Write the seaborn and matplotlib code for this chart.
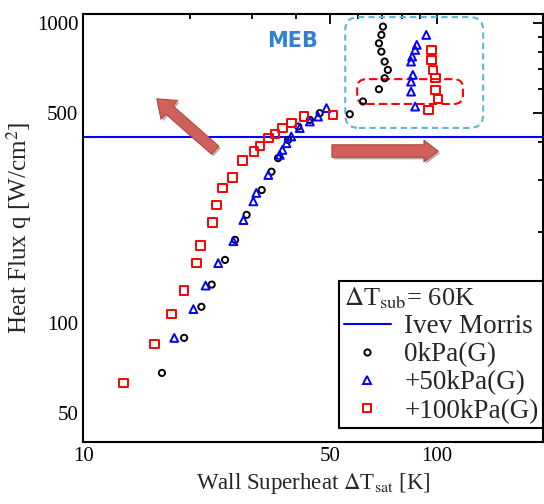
import matplotlib.pyplot as plt
import matplotlib.patheffects as pe
from matplotlib.patches import FancyBboxPatch
from matplotlib.lines import Line2D
import pandas as pd
import seaborn as sns

sns.set_theme(style="white")
plt.rcParams["font.family"] = ["Liberation Serif", "DejaVu Serif"]
plt.rcParams["mathtext.fontset"] = "stix"

# wall superheat [K] / heat flux [W/cm2]
dt_0k = [16.7, 19.3, 21.6, 23.1, 25.2, 26.9, 29.0, 32.0, 34.1, 35.6, 38.0, 40.6,
         43.8, 46.7, 56.8, 61.9, 68.7, 71.3, 72.8, 71.3, 69.8, 68.7, 69.8, 70.5]
q_0k = [68, 89, 113, 134, 162, 189, 229, 277, 319, 354, 407, 451,
        475, 500, 496, 547, 601, 654, 697, 743, 802, 855, 912, 972]

dt_50k = [18.1, 20.5, 22.2, 24.1, 26.6, 28.4, 30.3, 30.9, 33.4, 36.0, 36.6, 37.6,
          38.8, 41.0, 43.8, 46.2, 48.8, 87.0, 84.7, 84.7, 85.7, 84.7, 85.3, 87.0,
          87.9, 93.5]
q_50k = [89, 111, 133, 158, 187, 220, 254, 271, 311, 363, 377, 397,
         418, 446, 469, 487, 520, 526, 590, 637, 671, 743, 772, 813,
         845, 912]

dt_100k = [13.0, 15.9, 17.8, 19.3, 20.9, 21.5, 23.2, 23.8, 24.8, 26.5, 28.2, 30.4,
           31.6, 33.4, 34.9, 36.6, 38.8, 42.1, 50.9, 95.0, 101.0, 99.4, 99.4, 97.7,
           96.6, 96.6]
q_100k = [63, 85, 107, 128, 158, 181, 216, 247, 281, 305, 348, 372,
          389, 413, 426, 446, 463, 487, 493, 513, 557, 598, 654, 697,
          753, 813]

ivey_morris_q = 415
series = ["0kPa(G)", "+50kPa(G)", "+100kPa(G)"]
colors = ["black", "blue", "red"]
markers = ["o", "^", "s"]
sizes = [20, 32, 38]

df = pd.concat([
    pd.DataFrame({"dT": dt_0k, "q": q_0k, "case": series[0]}),
    pd.DataFrame({"dT": dt_50k, "q": q_50k, "case": series[1]}),
    pd.DataFrame({"dT": dt_100k, "q": q_100k, "case": series[2]}),
])

fig = plt.figure(figsize=(5.44, 5.04), dpi=100)
ax = fig.add_axes([0.153, 0.123, 0.845, 0.849])

ax.axhline(ivey_morris_q, color="blue", lw=1.5, zorder=1)
for name, c, m, s in zip(series, colors, markers, sizes):
    sub = df[df["case"] == name]
    sns.scatterplot(data=sub, x="dT", y="q", ax=ax, marker=m, s=s,
                    facecolor="none", edgecolor=c, linewidth=1.4, zorder=3)

ax.set_xscale("log")
ax.set_yscale("log")
ax.set_xlim(10, 200)
ax.set_ylim(40, 1070)
ax.set_xticks([10, 50, 100])
ax.set_xticklabels(["10", "50", "100"])
ax.set_xticks([20, 30, 40, 60, 70, 80, 90], minor=True)
ax.set_yticks([50, 100, 500, 1000])
ax.set_yticklabels(["50", "100", "500", "1000"])
ax.set_yticks([60, 70, 80, 90, 200, 300, 400, 600, 700, 800, 900], minor=True)
ax.yaxis.set_minor_formatter(plt.NullFormatter())
ax.xaxis.set_minor_formatter(plt.NullFormatter())
ax.tick_params(which="both", direction="in", top=True, right=True, width=1.3,
               labelsize=15, colors="black")
ax.tick_params(which="major", length=7)
ax.tick_params(which="minor", length=3.5)
for sp in ax.spines.values():
    sp.set_color("black")
    sp.set_linewidth(1.5)

ax.set_xlabel(r"Wall Superheat $\Delta$T$_{\mathrm{sat}}$ [K]", fontsize=16.5, labelpad=4)
ax.set_ylabel(r"Heat Flux q [W/cm$^{2}$]", fontsize=18, labelpad=2)

# MEB region markers
ax.add_patch(FancyBboxPatch((0.570, 0.734), 0.300, 0.259, transform=ax.transAxes,
                            boxstyle="round,pad=0,rounding_size=0.03",
                            fill=False, ec="#5bb8d0", ls=(0, (3, 2)), lw=1.5,
                            clip_on=False, zorder=2))
ax.add_patch(FancyBboxPatch((0.596, 0.790), 0.230, 0.058, transform=ax.transAxes,
                            boxstyle="round,pad=0,rounding_size=0.02",
                            fill=False, ec="red", ls=(0, (4, 2)), lw=1.5,
                            zorder=2))
ax.text(0.455, 0.938, "MEB", transform=ax.transAxes, color="#2f80d6",
        fontsize=15, fontweight="bold", family="DejaVu Sans",
        ha="center", va="center")

shadow = [pe.SimplePatchShadow(offset=(1.5, -1.5), alpha=0.35), pe.Normal()]
ax.annotate("", xy=(0.160, 0.802), xytext=(0.287, 0.682),
            xycoords="axes fraction",
            arrowprops=dict(arrowstyle="simple,head_width=1.5,head_length=1.0,tail_width=0.65",
                            fc="#d0605a", ec="#b04844", lw=0.8,
                            shrinkA=0, shrinkB=0, path_effects=shadow))
ax.annotate("", xy=(0.772, 0.680), xytext=(0.541, 0.680),
            xycoords="axes fraction",
            arrowprops=dict(arrowstyle="simple,head_width=1.3,head_length=0.85,tail_width=0.75",
                            fc="#d0605a", ec="#b04844", lw=0.8,
                            shrinkA=0, shrinkB=0, path_effects=shadow))

handles = [Line2D([], [], color="blue", lw=1.5)]
for c, m, s in zip(colors, markers, sizes):
    handles.append(Line2D([], [], ls="none", marker=m, mfc="none", mec=c,
                          mew=1.4, ms=s ** 0.5))
leg = ax.legend(handles, ["Ivev Morris"] + series,
                title=r"$\Delta$T$_{\mathrm{sub}}$= 60K", title_fontsize=19,
                fontsize=19.5, loc="lower right", bbox_to_anchor=(1.0, 0.033),
                frameon=True, fancybox=False, edgecolor="black",
                framealpha=1, borderpad=0.15, labelspacing=0.12,
                handlelength=1.75, handletextpad=0.5, borderaxespad=0,
                alignment="left")
leg.get_frame().set_linewidth(1.5)

fig.savefig("out.png", dpi=100)
